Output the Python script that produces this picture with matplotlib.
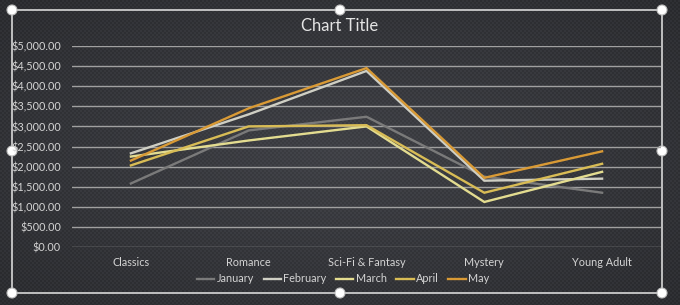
import numpy as np
import matplotlib.pyplot as plt
from matplotlib.patches import Rectangle, Circle
from matplotlib.lines import Line2D

plt.rcParams['font.family'] = ['Lato', 'DejaVu Sans']

categories = ["Classics", "Romance", "Sci-Fi & Fantasy", "Mystery", "Young Adult"]
months = ["January", "February", "March", "April", "May"]
january = [1580, 2900, 3240, 1750, 1350]
february = [2330, 3300, 4380, 1650, 1700]
march = [2250, 2650, 3000, 1120, 1870]
april = [2030, 3000, 3030, 1350, 2070]
may = [2150, 3450, 4450, 1720, 2380]
series = [january, february, march, april, may]
colors = ["#7a7a7a", "#cfcfc4", "#e3dc90", "#d8bc55", "#d99a35"]
yticks = np.arange(0, 5001, 500)

W, H = 680, 305
fig = plt.figure(figsize=(W / 100, H / 100), dpi=100)

# carbon-fibre like background
bg = fig.add_axes([0, 0, 1, 1])
yy, xx = np.mgrid[0:H, 0:W]
cx, cy = W / 2, H / 2
r = np.sqrt(((xx - cx) / W) ** 2 + ((yy - cy) / H) ** 2)
base = 0.25 - 0.12 * r
dots = ((xx % 4 < 2) ^ (yy % 4 < 2)) * 0.03
img = np.clip(base + dots, 0, 1)
rgb = np.dstack([img * 0.95, img * 0.97, img * 1.05])
bg.imshow(np.clip(rgb, 0, 1), extent=[0, W, H, 0], aspect='auto')
bg.set_xlim(0, W)
bg.set_ylim(H, 0)
bg.axis('off')

# selection frame with handles
bg.add_patch(Rectangle((12, 10), 650, 283, fill=False, ec="#d8d8d8", lw=1.2))
for hx in (12, 340, 662):
    for hy in (10, 151, 293):
        if hx == 340 and hy == 151:
            continue
        bg.add_patch(Circle((hx, hy), 5, fc="white", ec="#bbbbbb", lw=0.8, zorder=5))

ax = fig.add_axes([72 / W, 1 - 247 / H, (661 - 72) / W, (247 - 46) / H])
ax.set_facecolor('none')
x = np.arange(len(categories))
for name, vals, c in zip(months, series, colors):
    ax.plot(x, vals, color=c, lw=1.7, label=name, solid_joinstyle='miter')

ax.set_xlim(-0.5, len(categories) - 0.5)
ax.set_ylim(0, 5000)
ax.set_yticks(yticks)
ax.set_yticklabels([f"${v:,.2f}" for v in yticks])
ax.set_xticks(x)
ax.set_xticklabels(categories)
ax.tick_params(colors="#d4d4d4", labelsize=7.8, length=0, pad=8)
ax.tick_params(axis='x', pad=7)
ax.grid(axis='y', color="#a0a0a0", lw=1)
ax.set_axisbelow(True)
for s in ax.spines.values():
    s.set_visible(False)

fig.text(340 / W, 1 - 26 / H, "Chart Title", ha='center', va='center',
         color="#e4e4e4", fontsize=12)

handles = [Line2D([], [], color=c, lw=1.7) for c in colors]
fig.legend(handles, months, loc='center', bbox_to_anchor=(343 / W, 1 - 279 / H),
           ncol=5, frameon=False, fontsize=7.8, labelcolor="#d4d4d4",
           handlelength=1.6, handletextpad=0.2, columnspacing=0.9)

fig.savefig("out.png", dpi=100)
